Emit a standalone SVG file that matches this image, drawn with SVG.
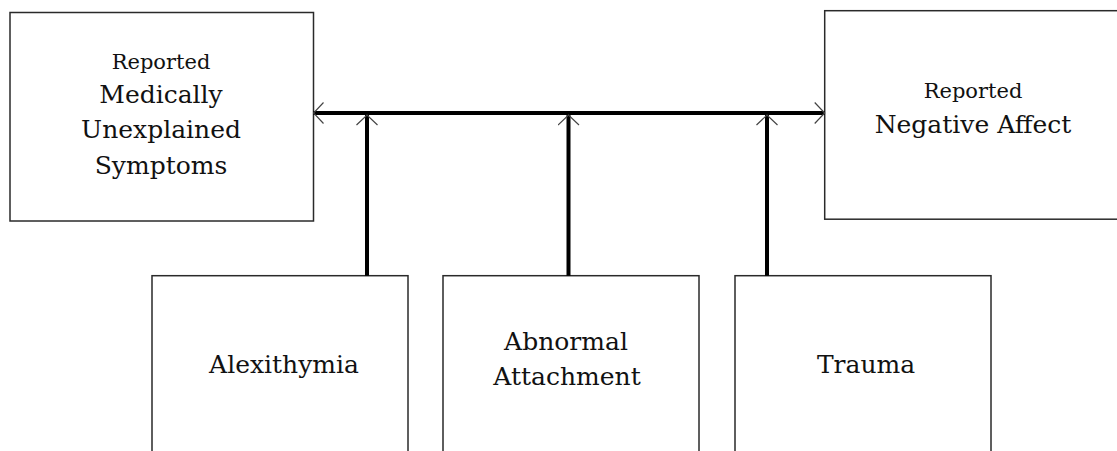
<svg xmlns="http://www.w3.org/2000/svg" width="1117" height="451" viewBox="0 0 1117 451">
<style>
.box{fill:#fff;stroke:#2a2a2a;stroke-width:1.5}
.lbl{font-family:"DejaVu Serif","Liberation Serif",serif;font-size:25px;fill:#111;text-anchor:middle}
.sm{font-size:21px}
.conn{stroke:#000;stroke-width:4;fill:none}
</style>
<defs>
<marker id="arr" viewBox="0 0 12 22" refX="11" refY="11" markerWidth="12" markerHeight="22" markerUnits="userSpaceOnUse" orient="auto-start-reverse">
<path d="M1,0.5 L11,11 L1,21.5" fill="none" stroke="#444" stroke-width="1.2"/>
</marker>
</defs>
<g id="node-mus">
<rect class="box" x="10" y="12.5" width="303.5" height="208.5"/>
<text class="lbl sm" x="161" y="69">Reported</text>
<text class="lbl" x="161" y="103">Medically</text>
<text class="lbl" x="161" y="138">Unexplained</text>
<text class="lbl" x="161" y="174">Symptoms</text>
</g>
<g id="node-na">
<rect class="box" x="824.7" y="10.7" width="296" height="208.5"/>
<text class="lbl sm" x="973" y="98">Reported</text>
<text class="lbl" x="973" y="133">Negative Affect</text>
</g>
<g id="node-alex">
<rect class="box" x="152" y="275.7" width="256" height="190"/>
<text class="lbl" x="284" y="373">Alexithymia</text>
</g>
<g id="node-attach">
<rect class="box" x="443" y="275.7" width="256" height="190"/>
<text class="lbl" x="566" y="350">Abnormal</text>
<text class="lbl" x="567" y="385">Attachment</text>
</g>
<g id="node-trauma">
<rect class="box" x="735" y="275.7" width="256" height="190"/>
<text class="lbl" x="866" y="373">Trauma</text>
</g>
<g id="connectors">
<path class="conn" d="M313.5,113 L824.7,113" marker-start="url(#arr)" marker-end="url(#arr)"/>
<path class="conn" d="M367,275.7 L367,115" marker-end="url(#arr)"/>
<path class="conn" d="M568.5,275.7 L568.5,115" marker-end="url(#arr)"/>
<path class="conn" d="M767,275.7 L767,115" marker-end="url(#arr)"/>
</g>
</svg>
